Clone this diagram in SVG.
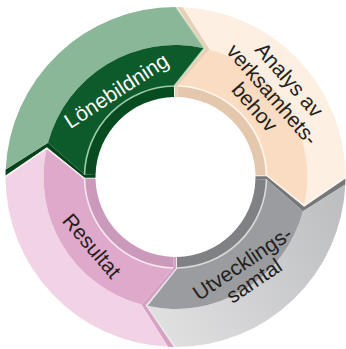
<svg xmlns="http://www.w3.org/2000/svg" xmlns:xlink="http://www.w3.org/1999/xlink" width="346" height="349" viewBox="0 0 346 349">
<defs>
<style>
text{font-family:"Liberation Sans",Arial,Helvetica,sans-serif;font-size:21px;text-anchor:middle}
.dark{fill:#231f20}
.light{fill:#ffffff}
</style>
<linearGradient id="greyOuter" gradientUnits="userSpaceOnUse" x1="200" y1="10" x2="320" y2="215">
<stop offset="0" stop-color="#bdbec0"/>
<stop offset="1" stop-color="#e2e2e3"/>
</linearGradient>
<path id="face" d="M176.98 7.01 L205.19 48.38 L174.71 86.00 L174.80 97.00 L177.59 97.03 L177.88 86.03 L209.66 49.50 L182.92 7.16 A170 170 0 0 0 176.98 7.01 Z"/>
<path id="outer" d="M182.92 7.16 A170 170 0 0 1 345.5 177 L304.37 205.57 A132 132 0 0 0 209.66 49.50 Z"/>
<path id="inner" d="M209.66 49.50 A132 132 0 0 1 304.37 205.57 L266.49 175.41 A91 91 0 0 0 177.88 86.03 Z"/>
<path id="wall" d="M177.88 86.03 A91 91 0 0 1 266.49 175.41 L255.49 175.60 A80 80 0 0 0 177.59 97.03 Z"/>
<path id="rim" d="M177.88 86.03 A91 91 0 0 1 266.49 175.41"/>
<path id="tip" d="M345.5 177 L304.37 205.57 L266.49 175.41"/>
</defs>
<rect width="346" height="349" fill="#ffffff"/>

<g id="node-lonebildning">
<g transform="rotate(270 175.5 177)">
<use xlink:href="#face" fill="#05441b"/>
<use xlink:href="#outer" fill="#8bb799"/>
<use xlink:href="#inner" fill="#0d5b2b"/>
<use xlink:href="#wall" fill="#064c20"/>
<use xlink:href="#rim" fill="none" stroke="#9fc9a9" stroke-width="1.6"/>
<use xlink:href="#tip" fill="none" stroke="#a9d0b3" stroke-width="1.2"/>
</g>
<text class="light" transform="translate(116.5 90.9) rotate(-33)" y="7">Lönebildning</text>
</g>

<g id="node-analys">
<g>
<use xlink:href="#face" fill="#e9cfb5"/>
<use xlink:href="#outer" fill="#fdefe1"/>
<use xlink:href="#inner" fill="#f9dcc1"/>
<use xlink:href="#wall" fill="#e4c8ad"/>
<use xlink:href="#rim" fill="none" stroke="#fff6ee" stroke-width="1.6"/>
<use xlink:href="#tip" fill="none" stroke="#fff6ee" stroke-width="1.2"/>
</g>
<g transform="translate(271.7 95) rotate(49)">
<text class="dark" y="-16">Analys av</text>
<text class="dark" y="6.5">verksamhets-</text>
<text class="dark" x="-2" y="28">behov</text>
</g>
</g>

<g id="node-utvecklingssamtal">
<g transform="rotate(90 175.5 177)">
<use xlink:href="#face" fill="#76777a"/>
<use xlink:href="#outer" fill="url(#greyOuter)"/>
<use xlink:href="#inner" fill="#9b9c9f"/>
<use xlink:href="#wall" fill="#808184"/>
<use xlink:href="#rim" fill="none" stroke="#d9d9da" stroke-width="1.6"/>
<use xlink:href="#tip" fill="none" stroke="#e6e6e7" stroke-width="1.2"/>
</g>
<g transform="translate(242.7 263.9) rotate(-34)">
<text class="dark" y="6.5">Utvecklings-</text>
<text class="dark" y="27.5">samtal</text>
</g>
</g>

<g id="node-resultat">
<g transform="rotate(180 175.5 177)">
<use xlink:href="#face" fill="#d6a2c4"/>
<use xlink:href="#outer" fill="#f2d3e6"/>
<use xlink:href="#inner" fill="#dea9cb"/>
<use xlink:href="#wall" fill="#cb9aba"/>
<use xlink:href="#rim" fill="none" stroke="#f8e6f0" stroke-width="1.6"/>
<use xlink:href="#tip" fill="none" stroke="#fbeef5" stroke-width="1.2"/>
</g>
<text class="dark" transform="translate(91.7 246) rotate(49.5)" y="7">Resultat</text>
</g>

<g id="connectors"></g>
</svg>
